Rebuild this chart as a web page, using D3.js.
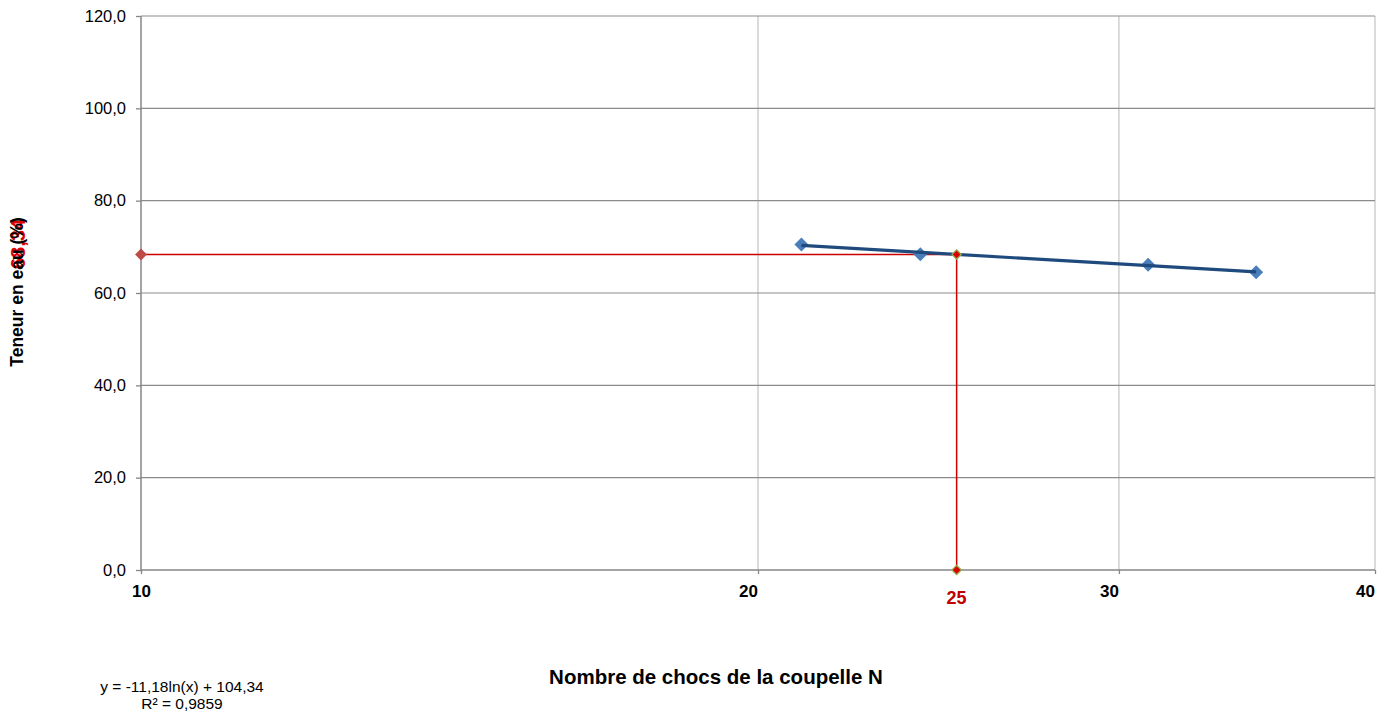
<!DOCTYPE html>
<html>
<head>
<meta charset="utf-8">
<script src="https://cdn.jsdelivr.net/npm/d3@7"></script>
<style>
body { margin: 0; background: #fff; font-family: "Liberation Sans", Arial, sans-serif; }
</style>
</head>
<body>
<div id="chart"></div>
<script>
// measured points (blows N, water content %)
var chocs = [21, 24, 31, 35];
var teneur = [70.5, 68.4, 66.1, 64.5];

// log trendline coefficients
var coefA = -11.18, coefB = 104.34;
var nRef = 25, wRef = 68.34;

var xTicks = [10, 20, 30, 40];
var yTicks = [0, 20, 40, 60, 80, 100, 120];

var W = 1386, H = 713;
var margin = {top: 16, right: 11, bottom: 143, left: 141};
var width = W - margin.left - margin.right,
    height = H - margin.top - margin.bottom;

var svg = d3.select("#chart").append("svg")
    .attr("width", W)
    .attr("height", H);

var g = svg.append("g")
    .attr("transform", "translate(" + margin.left + "," + margin.top + ")");

var xScale = d3.scaleLog().domain([10, 40]).range([0, width]);
var yScale = d3.scaleLinear().domain([0, 120]).range([height, 0]);

var fmtY = function(d) { return d3.format(".1f")(d).replace(".", ","); };

// vertical gridlines (light)
g.selectAll(".vgrid").data(xTicks.slice(1)).enter().append("line")
    .attr("x1", function(d) { return xScale(d); })
    .attr("x2", function(d) { return xScale(d); })
    .attr("y1", 0).attr("y2", height)
    .attr("stroke", "#c8c8c8").attr("stroke-width", 1.3);

// horizontal gridlines
g.selectAll(".hgrid").data(yTicks.slice(1)).enter().append("line")
    .attr("x1", 0).attr("x2", width)
    .attr("y1", function(d) { return yScale(d); })
    .attr("y2", function(d) { return yScale(d); })
    .attr("stroke", "#8c8c8c").attr("stroke-width", 1.1);

// y axis
var yAxis = d3.axisLeft(yScale).tickValues(yTicks).tickFormat(fmtY)
    .tickSize(5).tickPadding(10);
var ya = g.append("g").attr("class", "yAxis").call(yAxis);
ya.select(".domain").remove();
ya.append("line").attr("x1", 0).attr("x2", 0).attr("y1", 0).attr("y2", height)
    .attr("stroke", "#868686").attr("stroke-width", 1.5);
ya.selectAll(".tick line").attr("stroke", "#868686").attr("stroke-width", 1.3);
ya.selectAll("text").attr("fill", "#000")
    .style("font-size", "16.5px").style("font-family", "Liberation Sans, Arial");

// x axis
var xAxis = d3.axisBottom(xScale).tickValues(xTicks).tickFormat(d3.format("d"))
    .tickSize(4).tickPadding(11);
var xa = g.append("g").attr("class", "xAxis")
    .attr("transform", "translate(0," + height + ")")
    .call(xAxis);
xa.select(".domain").remove();
xa.append("line").attr("x1", 0).attr("x2", width).attr("y1", 0).attr("y2", 0)
    .attr("stroke", "#868686").attr("stroke-width", 1.5);
xa.selectAll(".tick line").attr("stroke", "#868686").attr("stroke-width", 1.3);
xa.selectAll("text").attr("fill", "#000")
    .style("font-size", "17px").style("font-weight", "bold")
    .style("font-family", "Liberation Sans, Arial")
    .attr("dx", function(d, i) { return i === 0 ? 0 : -10; });

// red reference lines (N=25 -> w)
g.append("line")
    .attr("x1", xScale(10)).attr("x2", xScale(nRef))
    .attr("y1", yScale(wRef)).attr("y2", yScale(wRef))
    .attr("stroke", "#cc0000").attr("stroke-width", 1.5);
g.append("line")
    .attr("x1", xScale(nRef)).attr("x2", xScale(nRef))
    .attr("y1", yScale(wRef)).attr("y2", yScale(0))
    .attr("stroke", "#cc0000").attr("stroke-width", 1.5);

// diamonds = squares turned 45 degrees
var square = d3.symbol().type(d3.symbolSquare);
var place = function(x, y) {
    return "translate(" + x + "," + y + ") rotate(45)";
};

// red marker on y axis
g.append("path")
    .attr("d", square.size(70)())
    .attr("transform", place(xScale(10), yScale(wRef)))
    .attr("fill", "#be4b48");

// trendline
var trend = d3.line()
    .x(function(d) { return xScale(d); })
    .y(function(d) { return yScale(coefA * Math.log(d) + coefB); });

// data markers
g.selectAll(".pt").data(chocs).enter().append("path")
    .attr("d", square.size(98)())
    .attr("transform", function(d, i) {
        return place(xScale(d), yScale(teneur[i]));
    })
    .attr("fill", "#4a7ebb");

g.append("path")
    .datum([chocs[0], chocs[chocs.length - 1]])
    .attr("d", trend)
    .attr("fill", "none")
    .attr("stroke", "#1f4a7d")
    .attr("stroke-width", 3.2);

// markers at N=25
[wRef, 0].forEach(function(v) {
    g.append("path")
        .attr("d", square.size(44)())
        .attr("transform", place(xScale(nRef), yScale(v)))
        .attr("fill", "#dd0000")
        .attr("stroke", "#8fae4f").attr("stroke-width", 1.3);
});

// red value labels
g.append("text")
    .attr("x", xScale(nRef)).attr("y", height + 34)
    .attr("text-anchor", "middle")
    .attr("fill", "#c00000")
    .style("font-size", "18px").style("font-weight", "bold")
    .text("25");

svg.append("text")
    .attr("transform", "translate(25,244) rotate(-90)")
    .attr("text-anchor", "middle")
    .attr("fill", "#dd0000")
    .style("font-size", "20px").style("font-weight", "bold")
    .text("68,34");

// axis titles
svg.append("text")
    .attr("transform", "translate(23,292) rotate(-90)")
    .attr("text-anchor", "middle")
    .style("font-size", "17.5px").style("font-weight", "bold")
    .text("Teneur en eau (%)");

svg.append("text")
    .attr("x", 716).attr("y", 684)
    .attr("text-anchor", "middle")
    .style("font-size", "20.5px").style("font-weight", "bold")
    .text("Nombre de chocs de la coupelle N");

// trendline equation
svg.append("text")
    .attr("x", 182).attr("y", 692)
    .attr("text-anchor", "middle")
    .style("font-size", "15.5px")
    .text("y = -11,18ln(x) + 104,34");
svg.append("text")
    .attr("x", 182).attr("y", 709)
    .attr("text-anchor", "middle")
    .style("font-size", "15.5px")
    .text("R² = 0,9859");
</script>
</body>
</html>
